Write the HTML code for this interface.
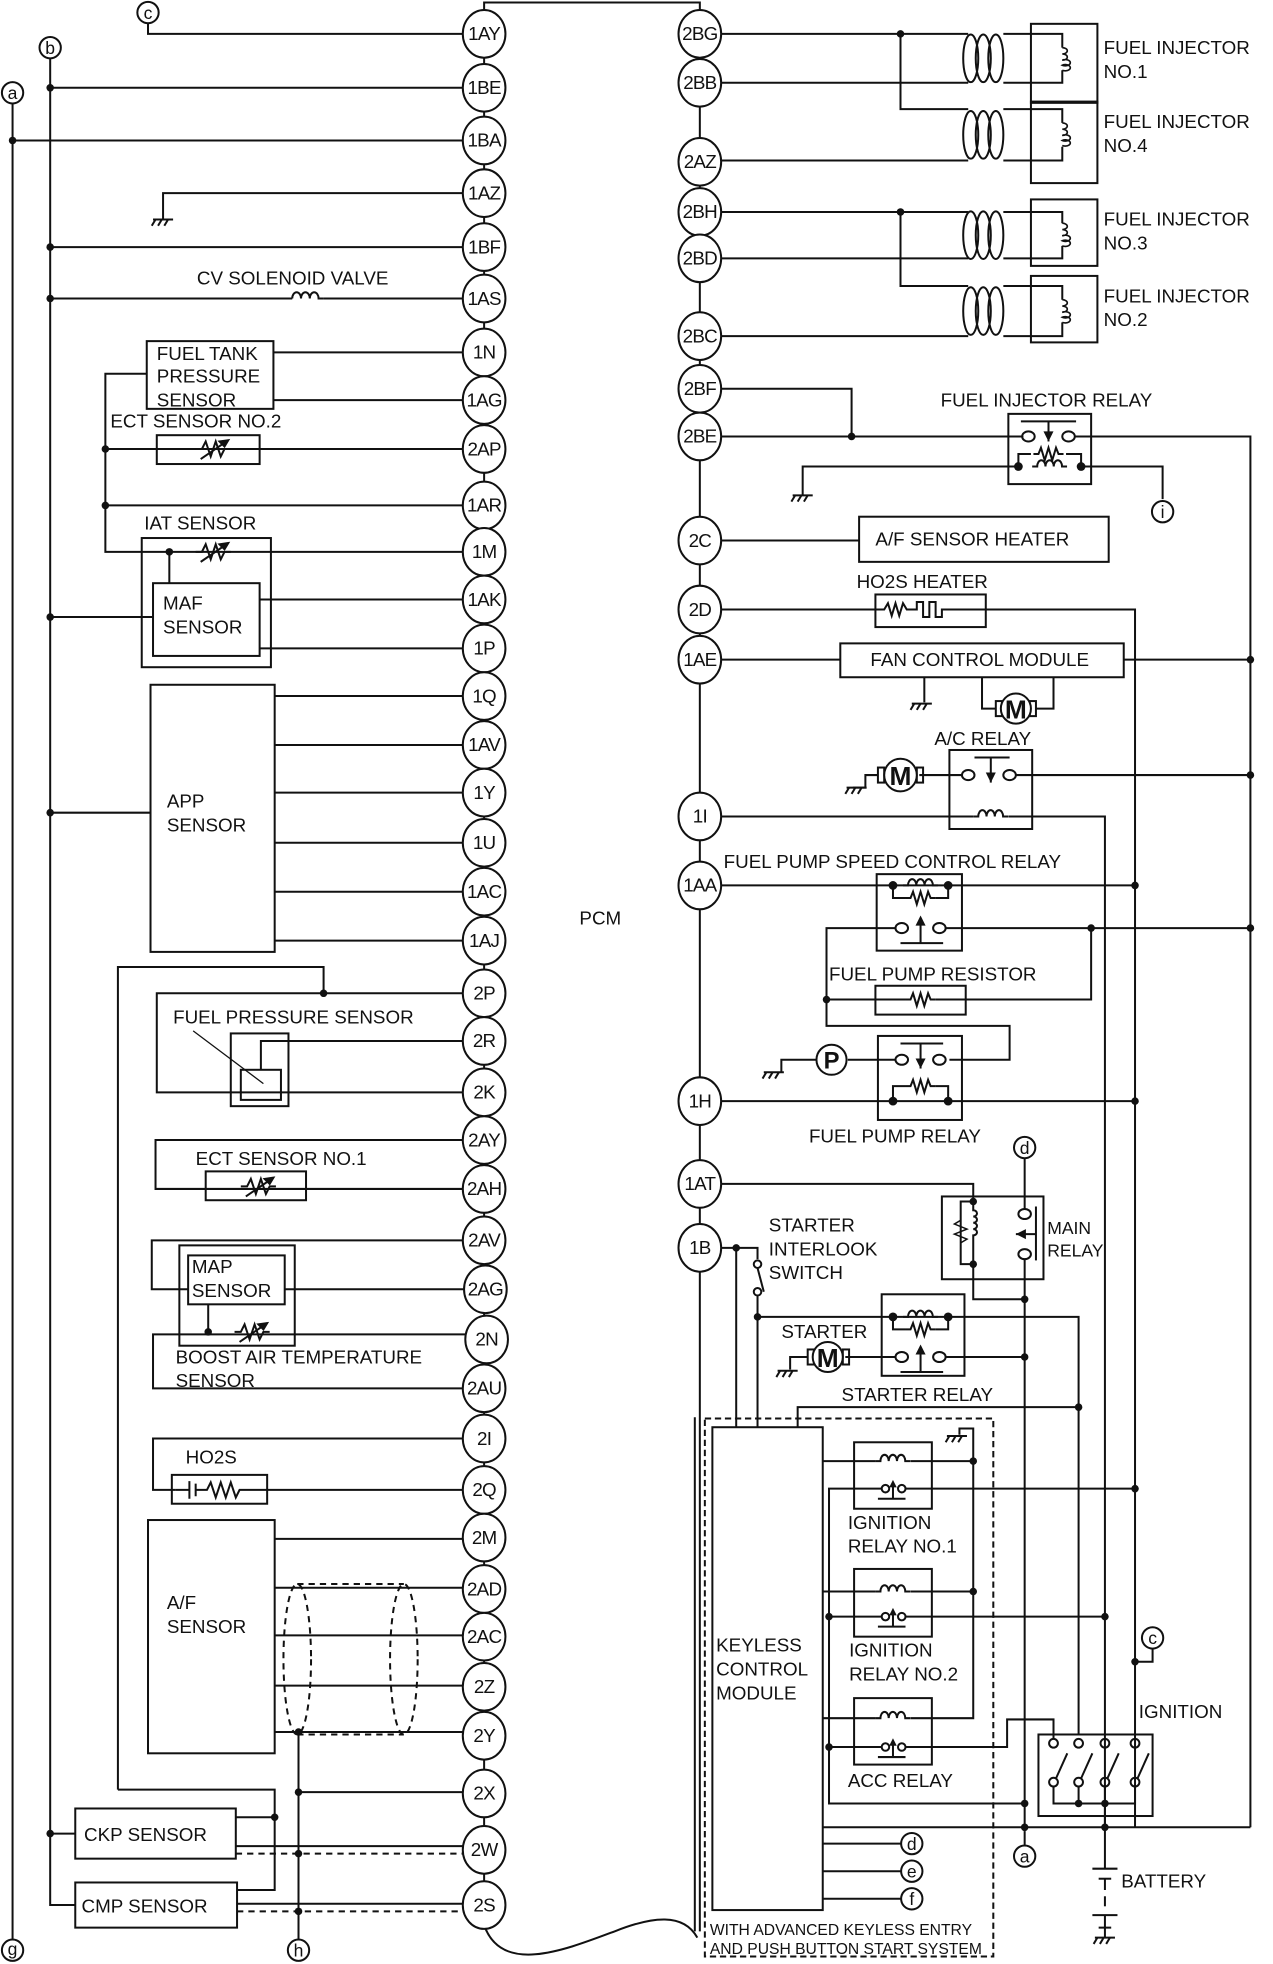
<!DOCTYPE html>
<html><head><meta charset="utf-8">
<style>
html,body{margin:0;padding:0;background:#fff;}
svg{display:block;}
text{font-family:"Liberation Sans",Arial,sans-serif;font-size:15px;fill:#111;}
.p{font-size:15px;text-anchor:middle;}
</style></head>
<body>
<svg width="1273" height="1964" viewBox="0 0 1015 1566" xmlns="http://www.w3.org/2000/svg">
<defs>
<g id="therm"><polyline points="-14,0 -9,0 -6,-6 -2,6 2,-6 6,6 9,0 14,0" fill="none"/><line x1="-10" y1="8" x2="12" y2="-7"/><polygon points="12,-7 5,-6 9,-2" fill="#111"/></g>
<g id="res"><polyline points="-12,0 -8,0 -6,-5 -3,5 0,-5 3,5 6,-5 8,0 12,0" fill="none"/></g>
<g id="coil"><path d="M-14,0 h4 a3.3,5 0 1 1 6.6,0 a3.3,5 0 1 1 6.6,0 a3.3,5 0 1 1 6.6,0 h4" fill="none"/></g>
<g id="gnd"><line x1="-8" y1="0" x2="8" y2="0"/><line x1="-6" y1="0" x2="-9" y2="5"/><line x1="-1" y1="0" x2="-4" y2="5"/><line x1="4" y1="0" x2="1" y2="5"/></g>
<g id="inj"><ellipse cx="-12" cy="0" rx="6" ry="19" fill="none"/><ellipse cx="-2" cy="0" rx="6" ry="19" fill="none"/><ellipse cx="8" cy="0" rx="6" ry="19" fill="none"/></g>
</defs>
<g stroke="#111" stroke-width="1.6" fill="none">
<polyline points="386,27 386,2 558,2 558,27"/>
<line x1="386" y1="27" x2="386" y2="1519"/>
<line x1="558" y1="27" x2="558" y2="1540"/>
<line x1="554" y1="1130" x2="554" y2="1540"/>
<path d="M386,1535 C400,1575 450,1555 490,1540 C520,1528 545,1525 556,1545"/>
<line x1="10" y1="82" x2="10" y2="1547"/>
<polyline points="40,47 40,1519 60,1519"/>
<polyline points="118,18 118,27 386,27"/>
<line x1="40" y1="70" x2="386" y2="70"/>
<line x1="10" y1="112" x2="386" y2="112"/>
<polyline points="130,175 130,154 386,154"/>
<line x1="40" y1="197" x2="386" y2="197"/>
<line x1="40" y1="238" x2="233" y2="238"/><line x1="258" y1="238" x2="386" y2="238"/>
<rect x="117" y="272" width="101" height="54"/>
<line x1="218" y1="281" x2="386" y2="281"/>
<line x1="218" y1="319" x2="386" y2="319"/>
<polyline points="117,298 84,298 84,440 386,440"/>
<rect x="125" y="347" width="82" height="23"/>
<line x1="84" y1="358" x2="386" y2="358"/>
<line x1="84" y1="403" x2="386" y2="403"/>
<rect x="113" y="429" width="103" height="103"/>
<rect x="122" y="465" width="85" height="58"/>
<line x1="135" y1="440" x2="135" y2="465"/>
<line x1="207" y1="478" x2="386" y2="478"/>
<line x1="207" y1="517" x2="386" y2="517"/>
<line x1="40" y1="492" x2="122" y2="492"/>
<rect x="120" y="546" width="99" height="213"/>
<line x1="219" y1="555" x2="386" y2="555"/><line x1="219" y1="594" x2="386" y2="594"/>
<line x1="219" y1="632" x2="386" y2="632"/><line x1="219" y1="672" x2="386" y2="672"/>
<line x1="219" y1="711" x2="386" y2="711"/><line x1="219" y1="750" x2="386" y2="750"/>
<line x1="40" y1="648" x2="120" y2="648"/>
<polyline points="94,1427 94,771 258,771 258,792"/>
<polyline points="386,792 125,792 125,871 386,871"/>
<rect x="184" y="824" width="46" height="58"/>
<rect x="192" y="853" width="32" height="24"/>
<polyline points="386,830 208,830 208,853"/>
<line x1="154" y1="822" x2="210" y2="864" stroke-width="1"/>
<polyline points="386,909 124,909 124,948 386,948"/>
<rect x="164" y="934" width="80" height="23"/>
<polyline points="386,989 121,989 121,1028 150,1028"/>
<rect x="143" y="993" width="92" height="80"/>
<rect x="150" y="1001" width="77" height="39"/>
<line x1="227" y1="1028" x2="386" y2="1028"/>
<line x1="166" y1="1040" x2="166" y2="1060"/>
<polyline points="386,1064 122,1064 122,1107 386,1107"/>
<polyline points="386,1147 122,1147 122,1188 140,1188"/>
<rect x="137" y="1176" width="76" height="23"/>
<path d="M140,1188 H151 M151,1181 V1195 M156,1183 V1193 M156,1188 H165 L168,1182 L172,1194 L176,1182 L180,1194 L184,1182 L188,1194 L191,1188 H386"/>
<rect x="118" y="1212" width="101" height="186"/>
<line x1="219" y1="1227" x2="386" y2="1227"/><line x1="219" y1="1266" x2="386" y2="1266"/>
<line x1="219" y1="1304" x2="386" y2="1304"/><line x1="219" y1="1344" x2="386" y2="1344"/>
<line x1="219" y1="1381" x2="386" y2="1381"/>
<g stroke-dasharray="5,4"><ellipse cx="237" cy="1323" rx="11" ry="60"/><ellipse cx="322" cy="1323" rx="11" ry="60"/><line x1="237" y1="1263" x2="322" y2="1263"/><line x1="237" y1="1383" x2="322" y2="1383"/></g>
<line x1="238" y1="1381" x2="238" y2="1547"/>
<line x1="238" y1="1429" x2="386" y2="1429"/>
<rect x="60" y="1442" width="128" height="40"/>
<rect x="60" y="1501" width="129" height="36"/>
<polyline points="94,1427 219,1427 219,1507 189,1507"/>
<line x1="188" y1="1449" x2="219" y2="1449"/>
<line x1="40" y1="1462" x2="60" y2="1462"/>
<line x1="188" y1="1472" x2="386" y2="1472"/>
<line x1="189" y1="1518" x2="386" y2="1518"/>
<g stroke-dasharray="5,4"><line x1="188" y1="1478" x2="370" y2="1478"/><line x1="189" y1="1524" x2="370" y2="1524"/></g>

<line x1="558" y1="27" x2="772" y2="27"/><line x1="558" y1="66" x2="772" y2="66"/>
<polyline points="718,27 718,87 772,87"/><line x1="558" y1="128" x2="772" y2="128"/>
<line x1="558" y1="169" x2="772" y2="169"/><line x1="558" y1="206" x2="772" y2="206"/>
<polyline points="718,169 718,228 772,228"/><line x1="558" y1="268" x2="772" y2="268"/>
<use href="#inj" x="786" y="46.5"/><use href="#inj" x="786" y="107.5"/><use href="#inj" x="786" y="187.5"/><use href="#inj" x="786" y="248"/>
<rect x="822" y="19" width="53" height="63"/><rect x="822" y="81" width="53" height="65"/>
<rect x="822" y="159" width="53" height="53"/><rect x="822" y="220" width="53" height="53"/>
<polyline points="800,27 847,27 847,38"/><polyline points="800,66 847,66 847,56"/>
<polyline points="800,87 847,87 847,98"/><polyline points="800,128 847,128 847,117"/>
<polyline points="800,169 847,169 847,178"/><polyline points="800,206 847,206 847,196"/>
<polyline points="800,228 847,228 847,239"/><polyline points="800,268 847,268 847,257"/>
<g stroke-width="1.3">
<path d="M847,38 a4,2.5 0 1 1 0,5 a4,2.5 0 1 1 0,5 a4,2.5 0 1 1 0,4 a4,2.5 0 1 1 0,4"/>
<path d="M847,98 a4,2.5 0 1 1 0,5 a4,2.5 0 1 1 0,5 a4,2.5 0 1 1 0,4 a4,2.5 0 1 1 0,4"/>
<path d="M847,178 a4,2.5 0 1 1 0,5 a4,2.5 0 1 1 0,5 a4,2.5 0 1 1 0,4 a4,2.5 0 1 1 0,4"/>
<path d="M847,239 a4,2.5 0 1 1 0,5 a4,2.5 0 1 1 0,5 a4,2.5 0 1 1 0,4 a4,2.5 0 1 1 0,4"/>
</g>
<polyline points="558,310 679,310 679,348"/>
<line x1="558" y1="348" x2="816" y2="348"/>
<rect x="804" y="330" width="66" height="56"/>
<ellipse cx="820" cy="348" rx="5" ry="4"/><ellipse cx="852" cy="348" rx="5" ry="4"/>
<line x1="814" y1="336" x2="858" y2="336"/><line x1="836" y1="336" x2="836" y2="352"/>
<polyline points="812,372 812,362 822,362"/><use href="#res" x="836" y="362"/><polyline points="850,362 862,362 862,372"/>
<use href="#coil" x="837" y="372"/>
<polyline points="812,372 640,372 640,395"/><use href="#gnd" x="640" y="395"/>
<polyline points="862,372 927,372 927,398"/>
<polyline points="857,348 997,348 997,1457"/>
<line x1="558" y1="431" x2="685" y2="431"/><rect x="685" y="412" width="199" height="36"/>
<rect x="698" y="474" width="88" height="26"/>
<polyline points="558,486 705,486 708,481 711,491 714,481 717,491 720,481 723,486 731,486 731,480 736,480 736,492 741,492 741,480 746,480 746,492 751,492 751,486 905,486 905,1457"/>
<line x1="558" y1="526" x2="670" y2="526"/><rect x="670" y="513" width="226" height="27"/>
<line x1="896" y1="526" x2="997" y2="526"/>
<line x1="737" y1="540" x2="737" y2="560"/><use href="#gnd" x="735" y="561"/>
<polyline points="783,540 783,565 794,565"/><polyline points="840,540 840,565 826,565"/>
<rect x="794" y="559" width="5" height="12"/><rect x="821" y="559" width="5" height="12"/>
<circle cx="810" cy="565" r="12" fill="#fff"/>
<rect x="757" y="598" width="66" height="63"/>
<ellipse cx="772" cy="618" rx="5" ry="4"/><ellipse cx="805" cy="618" rx="5" ry="4"/>
<line x1="777" y1="604" x2="805" y2="604"/><line x1="790" y1="604" x2="790" y2="624"/>
<line x1="733" y1="618" x2="767" y2="618"/><line x1="810" y1="618" x2="997" y2="618"/>
<rect x="700" y="612" width="5" height="12"/><rect x="731" y="612" width="5" height="12"/>
<circle cx="718" cy="618" r="13" fill="#fff"/>
<polyline points="700,618 690,618 690,628 680,628"/><use href="#gnd" x="683" y="628"/>
<line x1="558" y1="651" x2="776" y2="651"/><use href="#coil" x="790" y="651"/>
<polyline points="804,651 881,651 881,1457"/>
<rect x="699" y="697" width="68" height="61"/>
<line x1="558" y1="706" x2="905" y2="706"/>
<use href="#coil" x="734" y="706" fill="#fff"/>
<polyline points="712,706 712,716 722,716"/><use href="#res" x="734" y="716"/><polyline points="746,716 756,716 756,706"/>
<ellipse cx="719" cy="740" rx="5" ry="4"/><ellipse cx="749" cy="740" rx="5" ry="4"/>
<line x1="718" y1="752" x2="752" y2="752"/><line x1="734" y1="752" x2="734" y2="732"/>
<polyline points="714,740 659,740 659,818 805,818 805,845 757,845"/>
<line x1="754" y1="740" x2="997" y2="740"/>
<polyline points="870,740 870,797 770,797"/>
<rect x="698" y="786" width="72" height="23"/>
<line x1="659" y1="797" x2="722" y2="797"/><use href="#res" x="734" y="797"/><line x1="746" y1="797" x2="770" y2="797"/>
<rect x="700" y="826" width="67" height="67"/>
<line x1="718" y1="832" x2="752" y2="832"/><line x1="734" y1="832" x2="734" y2="852"/>
<ellipse cx="719" cy="845" rx="5" ry="4"/><ellipse cx="749" cy="845" rx="5" ry="4"/>
<line x1="676" y1="845" x2="714" y2="845"/>
<circle cx="663" cy="845" r="12" fill="#fff"/>
<polyline points="651,845 623,845 623,855"/><use href="#gnd" x="617" y="855"/>
<polyline points="712,878 712,866 722,866"/><use href="#res" x="734" y="866"/><polyline points="746,866 756,866 756,878"/>
<line x1="558" y1="878" x2="905" y2="878"/>
<polyline points="558,944 776,944 776,958"/>
<rect x="751" y="954" width="81" height="66"/>
<polyline points="776,958 766,958 766,1008 776,1008"/>
<path d="M776,958 v7 a3,2.5 0 1 1 0,5 a3,2.5 0 1 1 0,5 a3,2.5 0 1 1 0,5 a3,2.5 0 1 1 0,5 v21"/>
<polyline points="766,973 761,976 771,980 761,984 771,988 766,991" stroke-width="1.2"/>
<line x1="817" y1="924" x2="817" y2="964"/>
<ellipse cx="817" cy="968" rx="5" ry="4"/><ellipse cx="817" cy="1000" rx="5" ry="4"/>
<line x1="826" y1="962" x2="826" y2="1005"/><line x1="826" y1="984" x2="810" y2="984"/>
<polyline points="776,1008 776,1036 817,1036"/><line x1="817" y1="1004" x2="817" y2="1460"/>
<polyline points="558,995 587,995 587,1138"/>
<polyline points="587,995 604,995 604,1004"/>
<circle cx="604" cy="1008" r="3"/><circle cx="604" cy="1030" r="3"/>
<line x1="604" y1="1011" x2="609" y2="1030"/>
<polyline points="604,1033 604,1138"/>
<rect x="703" y="1032" width="66" height="65"/>
<polyline points="604,1050 860,1050 860,1383"/>
<use href="#coil" x="734" y="1050" fill="#fff"/>
<polyline points="712,1050 712,1060 722,1060"/><use href="#res" x="734" y="1060"/><polyline points="746,1060 756,1060 756,1050"/>
<ellipse cx="719" cy="1082" rx="5" ry="4"/><ellipse cx="749" cy="1082" rx="5" ry="4"/>
<line x1="718" y1="1094" x2="752" y2="1094"/><line x1="734" y1="1094" x2="734" y2="1074"/>
<line x1="674" y1="1082" x2="714" y2="1082"/><line x1="754" y1="1082" x2="817" y2="1082"/>
<rect x="644" y="1076" width="5" height="12"/><rect x="672" y="1076" width="5" height="12"/>
<circle cx="660" cy="1082" r="12" fill="#fff"/>
<polyline points="644,1082 630,1082 630,1092"/><use href="#gnd" x="628" y="1093"/>
<polyline points="636,1138 636,1122 860,1122"/>
<rect x="568" y="1138" width="88" height="385"/>
<rect x="562" y="1131" width="230" height="429" stroke-dasharray="5,3"/>
<rect x="681" y="1150" width="62" height="53"/><rect x="681" y="1251" width="62" height="54"/><rect x="681" y="1354" width="62" height="53"/>
<line x1="656" y1="1165" x2="698" y2="1165"/><use href="#coil" x="712" y="1165"/><line x1="726" y1="1165" x2="776" y2="1165"/>
<line x1="656" y1="1269" x2="698" y2="1269"/><use href="#coil" x="712" y="1269"/><line x1="726" y1="1269" x2="776" y2="1269"/>
<line x1="656" y1="1370" x2="698" y2="1370"/><use href="#coil" x="712" y="1370"/><polyline points="726,1370 776,1370 776,1139 765,1139 765,1144"/>
<use href="#gnd" x="763" y="1145"/>
<circle cx="706" cy="1187" r="3"/><circle cx="719" cy="1187" r="3"/><line x1="700" y1="1195" x2="722" y2="1195"/><line x1="712" y1="1195" x2="712" y2="1182"/>
<circle cx="706" cy="1289" r="3"/><circle cx="719" cy="1289" r="3"/><line x1="700" y1="1297" x2="722" y2="1297"/><line x1="712" y1="1297" x2="712" y2="1284"/>
<circle cx="706" cy="1393" r="3"/><circle cx="719" cy="1393" r="3"/><line x1="700" y1="1401" x2="722" y2="1401"/><line x1="712" y1="1401" x2="712" y2="1388"/>
<polyline points="703,1187 661,1187 661,1438 817,1438"/>
<line x1="722" y1="1187" x2="905" y2="1187"/>
<line x1="661" y1="1289" x2="703" y2="1289"/><line x1="722" y1="1289" x2="881" y2="1289"/>
<line x1="661" y1="1393" x2="703" y2="1393"/><polyline points="722,1393 803,1393 803,1371 840,1371 840,1387"/>
<line x1="656" y1="1457" x2="997" y2="1457"/>
<line x1="656" y1="1470" x2="718" y2="1470"/><line x1="656" y1="1492" x2="718" y2="1492"/><line x1="656" y1="1514" x2="718" y2="1514"/>
<rect x="828" y="1383" width="91" height="65"/>
<circle cx="840" cy="1390" r="3.5"/><circle cx="840" cy="1421" r="3.5"/><line x1="842" y1="1418" x2="851" y2="1398"/>
<circle cx="860" cy="1390" r="3.5"/><circle cx="860" cy="1421" r="3.5"/><line x1="862" y1="1418" x2="871" y2="1398"/>
<circle cx="881" cy="1390" r="3.5"/><circle cx="881" cy="1421" r="3.5"/><line x1="883" y1="1418" x2="892" y2="1398"/>
<circle cx="905" cy="1390" r="3.5"/><circle cx="905" cy="1421" r="3.5"/><line x1="907" y1="1418" x2="916" y2="1398"/>
<polyline points="840,1424 840,1438 905,1438 905,1424"/><line x1="860" y1="1424" x2="860" y2="1438"/><line x1="881" y1="1424" x2="881" y2="1490"/>
<polyline points="919,1314 919,1325 905,1325"/>
<line x1="871" y1="1490" x2="891" y2="1490"/><line x1="881" y1="1498" x2="881" y2="1507"/><line x1="876" y1="1498" x2="886" y2="1498"/>
<line x1="881" y1="1512" x2="881" y2="1520"/><line x1="871" y1="1527" x2="891" y2="1527"/><line x1="881" y1="1527" x2="881" y2="1545"/><line x1="876" y1="1537" x2="886" y2="1537"/>
<use href="#gnd" x="881" y="1545"/>
<line x1="817" y1="1460" x2="817" y2="1471"/>
</g>
<g stroke="#111" stroke-width="1.6" fill="#fff">
<use href="#therm" x="170" y="358"/><use href="#therm" x="170" y="440"/><use href="#therm" x="206" y="946"/><use href="#therm" x="201" y="1062"/>
</g>
<g stroke="#111" stroke-width="1.6" fill="none">
<path d="M233,238 a3.5,5 0 1 1 7,0 a3.5,5 0 1 1 7,0 a3.5,5 0 1 1 7,0 h4"/>
<use href="#gnd" x="130" y="175"/>
</g>
<g fill="#111">
<circle cx="40" cy="70" r="3"/><circle cx="10" cy="112" r="3"/><circle cx="40" cy="197" r="3"/><circle cx="40" cy="238" r="3"/>
<circle cx="84" cy="358" r="3"/><circle cx="84" cy="403" r="3"/><circle cx="135" cy="440" r="3"/><circle cx="40" cy="492" r="3"/><circle cx="40" cy="648" r="3"/>
<circle cx="258" cy="792" r="3"/><circle cx="166" cy="1062" r="3"/>
<circle cx="238" cy="1381" r="3"/><circle cx="238" cy="1429" r="3"/><circle cx="238" cy="1478" r="3"/><circle cx="238" cy="1524" r="3"/>
<circle cx="219" cy="1449" r="3"/><circle cx="40" cy="1462" r="3"/>
<circle cx="718" cy="27" r="3"/><circle cx="718" cy="169" r="3"/><circle cx="679" cy="348" r="3"/>
<circle cx="812" cy="372" r="3.5"/><circle cx="862" cy="372" r="3.5"/>
<circle cx="997" cy="526" r="3"/><circle cx="997" cy="618" r="3"/><circle cx="997" cy="740" r="3"/>
<circle cx="712" cy="706" r="3.5"/><circle cx="756" cy="706" r="3.5"/><circle cx="905" cy="706" r="3"/><circle cx="870" cy="740" r="3"/><circle cx="659" cy="797" r="3"/>
<circle cx="712" cy="878" r="3.5"/><circle cx="756" cy="878" r="3.5"/><circle cx="905" cy="878" r="3"/>
<circle cx="776" cy="958" r="3"/><circle cx="776" cy="1008" r="3"/><circle cx="817" cy="1036" r="3"/>
<circle cx="587" cy="995" r="3"/><circle cx="604" cy="1050" r="3"/><circle cx="712" cy="1050" r="3.5"/><circle cx="756" cy="1050" r="3.5"/><circle cx="817" cy="1082" r="3"/><circle cx="860" cy="1122" r="3"/>
<circle cx="776" cy="1165" r="3"/><circle cx="776" cy="1269" r="3"/><circle cx="905" cy="1187" r="3"/><circle cx="661" cy="1289" r="3"/><circle cx="881" cy="1289" r="3"/><circle cx="661" cy="1393" r="3"/>
<circle cx="905" cy="1325" r="3"/><circle cx="817" cy="1438" r="3"/><circle cx="860" cy="1438" r="3"/><circle cx="881" cy="1438" r="3"/><circle cx="817" cy="1457" r="3"/><circle cx="881" cy="1457" r="3"/>
<polygon points="836,352 832,344 840,344"/><polygon points="790,624 786,616 794,616"/><polygon points="734,730 730,738 738,738"/><polygon points="734,852 730,844 738,844"/><polygon points="810,984 818,980 818,988"/><polygon points="734,1072 730,1080 738,1080"/>
<polygon points="712,1180 709,1186 715,1186"/><polygon points="712,1282 709,1288 715,1288"/><polygon points="712,1386 709,1392 715,1392"/>
</g>
<g stroke="#111" stroke-width="1.6" fill="#fff">
<ellipse cx="386" cy="27" rx="17" ry="19"/><ellipse cx="386" cy="70" rx="17" ry="19"/><ellipse cx="386" cy="112" rx="17" ry="19"/><ellipse cx="386" cy="154" rx="17" ry="19"/>
<ellipse cx="386" cy="197" rx="17" ry="19"/><ellipse cx="386" cy="238" rx="17" ry="19"/><ellipse cx="386" cy="281" rx="17" ry="19"/><ellipse cx="386" cy="319" rx="17" ry="19"/>
<ellipse cx="386" cy="358" rx="17" ry="19"/><ellipse cx="386" cy="403" rx="17" ry="19"/><ellipse cx="386" cy="440" rx="17" ry="19"/><ellipse cx="386" cy="478" rx="17" ry="19"/>
<ellipse cx="386" cy="517" rx="17" ry="19"/><ellipse cx="386" cy="555" rx="17" ry="19"/><ellipse cx="386" cy="594" rx="17" ry="19"/><ellipse cx="386" cy="632" rx="17" ry="19"/>
<ellipse cx="386" cy="672" rx="17" ry="19"/><ellipse cx="386" cy="711" rx="17" ry="19"/><ellipse cx="386" cy="750" rx="17" ry="19"/><ellipse cx="386" cy="792" rx="17" ry="19"/>
<ellipse cx="386" cy="830" rx="17" ry="19"/><ellipse cx="386" cy="871" rx="17" ry="19"/><ellipse cx="386" cy="909" rx="17" ry="19"/><ellipse cx="386" cy="948" rx="17" ry="19"/>
<ellipse cx="386" cy="989" rx="17" ry="19"/><ellipse cx="387" cy="1028" rx="17" ry="19"/><ellipse cx="388" cy="1068" rx="17" ry="19"/><ellipse cx="386" cy="1107" rx="17" ry="19"/>
<ellipse cx="386" cy="1147" rx="17" ry="19"/><ellipse cx="386" cy="1188" rx="17" ry="19"/><ellipse cx="386" cy="1226" rx="17" ry="19"/><ellipse cx="386" cy="1267" rx="17" ry="19"/>
<ellipse cx="386" cy="1305" rx="17" ry="19"/><ellipse cx="386" cy="1345" rx="17" ry="19"/><ellipse cx="386" cy="1384" rx="17" ry="19"/><ellipse cx="386" cy="1430" rx="17" ry="19"/>
<ellipse cx="386" cy="1475" rx="17" ry="19"/><ellipse cx="386" cy="1519" rx="17" ry="19"/>
<ellipse cx="558" cy="27" rx="17" ry="19"/><ellipse cx="558" cy="66" rx="17" ry="19"/><ellipse cx="558" cy="129" rx="17" ry="19"/><ellipse cx="558" cy="169" rx="17" ry="19"/>
<ellipse cx="558" cy="206" rx="17" ry="19"/><ellipse cx="558" cy="268" rx="17" ry="19"/><ellipse cx="558" cy="310" rx="17" ry="19"/><ellipse cx="558" cy="348" rx="17" ry="19"/>
<ellipse cx="558" cy="431" rx="17" ry="19"/><ellipse cx="558" cy="486" rx="17" ry="19"/><ellipse cx="558" cy="526" rx="17" ry="19"/><ellipse cx="558" cy="651" rx="17" ry="19"/>
<ellipse cx="558" cy="706" rx="17" ry="19"/><ellipse cx="558" cy="878" rx="17" ry="19"/><ellipse cx="558" cy="944" rx="17" ry="19"/><ellipse cx="558" cy="995" rx="17" ry="19"/>
<circle cx="118" cy="10" r="8.5"/><circle cx="40" cy="38" r="8.5"/><circle cx="10" cy="74" r="8.5"/><circle cx="10" cy="1555" r="8.5"/><circle cx="238" cy="1555" r="8.5"/>
<circle cx="927" cy="408" r="8.5"/><circle cx="817" cy="915" r="8.5"/><circle cx="919" cy="1306" r="8.5"/><circle cx="817" cy="1480" r="8.5"/>
<circle cx="727" cy="1470" r="8.5"/><circle cx="727" cy="1492" r="8.5"/><circle cx="727" cy="1514" r="8.5"/>
</g>
<g>
<text x="810" y="573" text-anchor="middle" style="font-size:21px;font-weight:bold">M</text>
<text x="718" y="626" text-anchor="middle" style="font-size:21px;font-weight:bold">M</text>
<text x="660" y="1090" text-anchor="middle" style="font-size:21px;font-weight:bold">M</text>
<text x="663" y="852" text-anchor="middle" style="font-size:19px;font-weight:bold">P</text>
<text class="p" x="118" y="15" style="font-size:14px">c</text><text class="p" x="40" y="43" style="font-size:14px">b</text><text class="p" x="10" y="79" style="font-size:14px">a</text><text class="p" x="10" y="1559" style="font-size:14px">g</text><text class="p" x="238" y="1560" style="font-size:14px">h</text>
<text class="p" x="927" y="413" style="font-size:14px">i</text><text class="p" x="817" y="920" style="font-size:14px">d</text><text class="p" x="919" y="1311" style="font-size:14px">c</text><text class="p" x="817" y="1485" style="font-size:14px">a</text>
<text class="p" x="727" y="1475" style="font-size:14px">d</text><text class="p" x="727" y="1497" style="font-size:14px">e</text><text class="p" x="727" y="1519" style="font-size:14px">f</text>
<g style="letter-spacing:-0.6px">
<text class="p" x="386" y="32">1AY</text><text class="p" x="386" y="75">1BE</text><text class="p" x="386" y="117">1BA</text><text class="p" x="386" y="159">1AZ</text>
<text class="p" x="386" y="202">1BF</text><text class="p" x="386" y="243">1AS</text><text class="p" x="386" y="286">1N</text><text class="p" x="386" y="324">1AG</text>
<text class="p" x="386" y="363">2AP</text><text class="p" x="386" y="408">1AR</text><text class="p" x="386" y="445">1M</text><text class="p" x="386" y="483">1AK</text>
<text class="p" x="386" y="522">1P</text><text class="p" x="386" y="560">1Q</text><text class="p" x="386" y="599">1AV</text><text class="p" x="386" y="637">1Y</text>
<text class="p" x="386" y="677">1U</text><text class="p" x="386" y="716">1AC</text><text class="p" x="386" y="755">1AJ</text><text class="p" x="386" y="797">2P</text>
<text class="p" x="386" y="835">2R</text><text class="p" x="386" y="876">2K</text><text class="p" x="386" y="914">2AY</text><text class="p" x="386" y="953">2AH</text>
<text class="p" x="386" y="994">2AV</text><text class="p" x="387" y="1033">2AG</text><text class="p" x="388" y="1073">2N</text><text class="p" x="386" y="1112">2AU</text>
<text class="p" x="386" y="1152">2I</text><text class="p" x="386" y="1193">2Q</text><text class="p" x="386" y="1231">2M</text><text class="p" x="386" y="1272">2AD</text>
<text class="p" x="386" y="1310">2AC</text><text class="p" x="386" y="1350">2Z</text><text class="p" x="386" y="1389">2Y</text><text class="p" x="386" y="1435">2X</text>
<text class="p" x="386" y="1480">2W</text><text class="p" x="386" y="1524">2S</text>
<text class="p" x="558" y="32">2BG</text><text class="p" x="558" y="71">2BB</text><text class="p" x="558" y="134">2AZ</text><text class="p" x="558" y="174">2BH</text>
<text class="p" x="558" y="211">2BD</text><text class="p" x="558" y="273">2BC</text><text class="p" x="558" y="315">2BF</text><text class="p" x="558" y="353">2BE</text>
<text class="p" x="558" y="436">2C</text><text class="p" x="558" y="491">2D</text><text class="p" x="558" y="531">1AE</text><text class="p" x="558" y="656">1I</text>
<text class="p" x="558" y="711">1AA</text><text class="p" x="558" y="883">1H</text><text class="p" x="558" y="949">1AT</text><text class="p" x="558" y="1000">1B</text>
</g>
<text x="157" y="227">CV SOLENOID VALVE</text>
<text x="125" y="287">FUEL TANK</text><text x="125" y="305">PRESSURE</text><text x="125" y="324">SENSOR</text>
<text x="88" y="341">ECT SENSOR NO.2</text>
<text x="115" y="422">IAT SENSOR</text>
<text x="130" y="486">MAF</text><text x="130" y="505">SENSOR</text>
<text x="133" y="644">APP</text><text x="133" y="663">SENSOR</text>
<text x="462" y="737">PCM</text>
<text x="138" y="816">FUEL PRESSURE SENSOR</text>
<text x="156" y="929">ECT SENSOR NO.1</text>
<text x="153" y="1015">MAP</text><text x="153" y="1034">SENSOR</text>
<text x="140" y="1087">BOOST AIR TEMPERATURE</text><text x="140" y="1106">SENSOR</text>
<text x="148" y="1167">HO2S</text>
<text x="133" y="1283">A/F</text><text x="133" y="1302">SENSOR</text>
<text x="67" y="1468">CKP SENSOR</text><text x="65" y="1525">CMP SENSOR</text>
<text x="880" y="43">FUEL INJECTOR</text><text x="880" y="62">NO.1</text>
<text x="880" y="102">FUEL INJECTOR</text><text x="880" y="121">NO.4</text>
<text x="880" y="180">FUEL INJECTOR</text><text x="880" y="199">NO.3</text>
<text x="880" y="241">FUEL INJECTOR</text><text x="880" y="260">NO.2</text>
<text x="750" y="324">FUEL INJECTOR RELAY</text>
<text x="698" y="435">A/F SENSOR HEATER</text>
<text x="683" y="469">HO2S HEATER</text>
<text x="694" y="531">FAN CONTROL MODULE</text>
<text x="745" y="594">A/C RELAY</text>
<text x="577" y="692">FUEL PUMP SPEED CONTROL RELAY</text>
<text x="661" y="782">FUEL PUMP RESISTOR</text>
<text x="645" y="911">FUEL PUMP RELAY</text>
<text x="835" y="984" style="font-size:14px">MAIN</text><text x="835" y="1002" style="font-size:14px">RELAY</text>
<text x="613" y="982">STARTER</text><text x="613" y="1001">INTERLOOK</text><text x="613" y="1020">SWITCH</text>
<text x="623" y="1067">STARTER</text>
<text x="671" y="1117">STARTER RELAY</text>
<text x="676" y="1219">IGNITION</text><text x="676" y="1238">RELAY NO.1</text>
<text x="677" y="1321">IGNITION</text><text x="677" y="1340">RELAY NO.2</text>
<text x="676" y="1425">ACC RELAY</text>
<text x="571" y="1317">KEYLESS</text><text x="571" y="1336">CONTROL</text><text x="571" y="1355">MODULE</text>
<text x="908" y="1370">IGNITION</text>
<text x="894" y="1505">BATTERY</text>
<text x="566" y="1543" style="font-size:12.5px">WITH ADVANCED KEYLESS ENTRY</text>
<text x="566" y="1558" style="font-size:12.5px">AND PUSH BUTTON START SYSTEM</text>
</g>
</svg>
</body></html>
